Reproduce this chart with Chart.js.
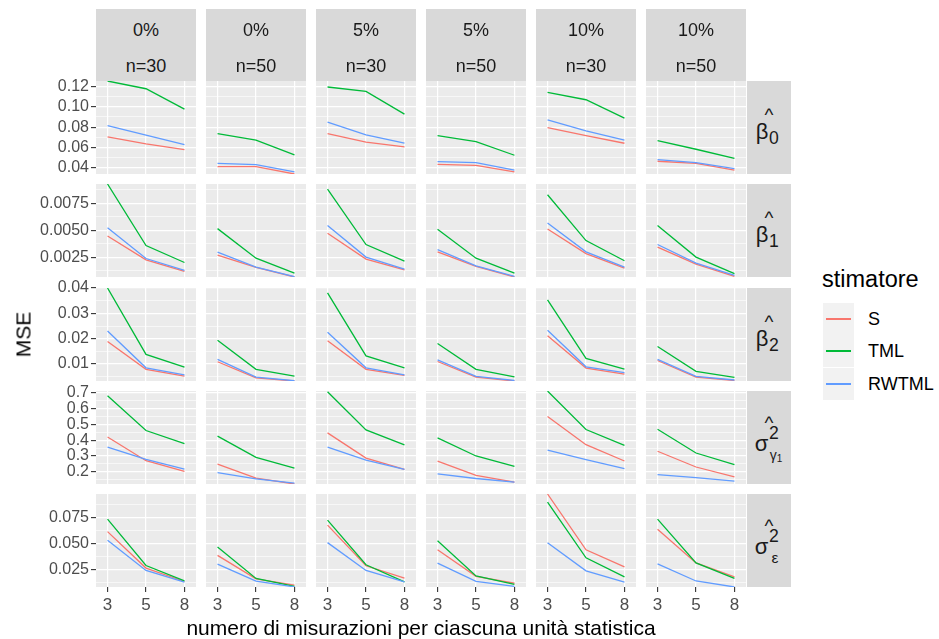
<!DOCTYPE html>
<html>
<head>
<meta charset="utf-8">
<title>MSE degli stimatori</title>
<script src="https://cdn.jsdelivr.net/npm/chart.js"></script>
<style>
    body {
        margin: 0;
        background: #ffffff;
        font-family: "Liberation Sans", Arial, sans-serif;
    }
    #fig {
        position: relative;
        width: 939px;
        height: 639px;
        overflow: hidden;
    }
    .strip {
        position: absolute;
        background: #D9D9D9;
    }
    .txt {
        position: absolute;
        white-space: nowrap;
        color: #1A1A1A;
    }
    .key {
        position: absolute;
        background: #F2F2F2;
    }
    .keyline {
        position: absolute;
        height: 2px;
    }
</style>
</head>
<body>
<div id="fig"></div>

<script>
    // facet columns: percentuale di contaminazione / numerosita
    const contaminazione = ['0%', '0%', '5%', '5%', '10%', '10%'];
    const numerosita = ['n=30', 'n=50', 'n=30', 'n=50', 'n=30', 'n=50'];
    const misurazioni = ['3', '5', '8'];
    const stimatori = ['S', 'TML', 'RWTML'];
    const colori = { S: '#F8766D', TML: '#00BA38', RWTML: '#619CFF' };

    // MSE, one triple (3, 5, 8 misurazioni) per facet column
    const sBeta0   = [[0.0704, 0.0635, 0.0579], [0.0412, 0.0412, 0.0340], [0.0737, 0.0652, 0.0606], [0.0435, 0.0425, 0.0360], [0.0796, 0.0717, 0.0642], [0.0465, 0.0445, 0.0379]];
    const tmlBeta0 = [[0.1253, 0.1177, 0.0977], [0.0737, 0.0672, 0.0527], [0.1194, 0.1151, 0.0928], [0.0717, 0.0658, 0.0524], [0.1141, 0.1069, 0.0889], [0.0668, 0.0583, 0.0494]];
    const rwBeta0  = [[0.0816, 0.0721, 0.0629], [0.0445, 0.0432, 0.0360], [0.0849, 0.0724, 0.0642], [0.0461, 0.0451, 0.0379], [0.0872, 0.0764, 0.0672], [0.0481, 0.0451, 0.0392]];

    const sBeta1   = [[0.00447, 0.00225, 0.00117], [0.00269, 0.00154, 0.00065], [0.00472, 0.00231, 0.00132], [0.00299, 0.00163, 0.00065], [0.00512, 0.00283, 0.00148], [0.00343, 0.00185, 0.00071]];
    const tmlBeta1 = [[0.00930, 0.00357, 0.00200], [0.00515, 0.00240, 0.00102], [0.00882, 0.00367, 0.00213], [0.00509, 0.00240, 0.00102], [0.00830, 0.00404, 0.00216], [0.00543, 0.00250, 0.00096]];
    const rwBeta1  = [[0.00524, 0.00237, 0.00126], [0.00296, 0.00157, 0.00068], [0.00543, 0.00250, 0.00139], [0.00320, 0.00169, 0.00071], [0.00568, 0.00299, 0.00157], [0.00367, 0.00194, 0.00080]];

    const sBeta2   = [[0.0189, 0.0079, 0.0052], [0.0109, 0.0045, 0.0033], [0.0192, 0.0079, 0.0055], [0.0110, 0.0048, 0.0033], [0.0212, 0.0084, 0.0060], [0.0114, 0.0048, 0.0035]];
    const tmlBeta2 = [[0.0400, 0.0138, 0.0088], [0.0194, 0.0079, 0.0052], [0.0381, 0.0132, 0.0085], [0.0181, 0.0079, 0.0049], [0.0353, 0.0122, 0.0080], [0.0169, 0.0071, 0.0047]];
    const rwBeta2  = [[0.0230, 0.0085, 0.0057], [0.0118, 0.0048, 0.0034], [0.0225, 0.0085, 0.0057], [0.0116, 0.0051, 0.0035], [0.0233, 0.0089, 0.0066], [0.0118, 0.0051, 0.0037]];

    const sGamma   = [[0.421, 0.270, 0.202], [0.249, 0.160, 0.122], [0.447, 0.287, 0.215], [0.268, 0.177, 0.134], [0.551, 0.372, 0.268], [0.330, 0.230, 0.168]];
    const tmlGamma = [[0.683, 0.462, 0.379], [0.426, 0.291, 0.223], [0.708, 0.466, 0.370], [0.415, 0.300, 0.234], [0.713, 0.468, 0.368], [0.470, 0.319, 0.245]];
    const rwGamma  = [[0.357, 0.279, 0.217], [0.194, 0.155, 0.128], [0.357, 0.274, 0.215], [0.187, 0.157, 0.134], [0.338, 0.277, 0.219], [0.181, 0.162, 0.140]];

    const sEps     = [[0.0611, 0.0260, 0.0131], [0.0382, 0.0156, 0.0095], [0.0673, 0.0282, 0.0163], [0.0436, 0.0181, 0.0114], [0.0973, 0.0436, 0.0271], [0.0634, 0.0310, 0.0175]];
    const tmlEps   = [[0.0731, 0.0285, 0.0137], [0.0463, 0.0160, 0.0085], [0.0721, 0.0292, 0.0127], [0.0523, 0.0184, 0.0104], [0.0895, 0.0359, 0.0175], [0.0731, 0.0310, 0.0162]];
    const rwEps    = [[0.0527, 0.0237, 0.0124], [0.0298, 0.0134, 0.0079], [0.0505, 0.0237, 0.0127], [0.0307, 0.0133, 0.0084], [0.0504, 0.0233, 0.0126], [0.0300, 0.0136, 0.0078]];

    // y breaks for each row (free scales)
    const yTickBeta0 = [0.04, 0.06, 0.08, 0.10, 0.12];
    const yMinorBeta0 = [0.03, 0.05, 0.07, 0.09, 0.11, 0.13];
    const yTickBeta1 = [0.0025, 0.0050, 0.0075];
    const yMinorBeta1 = [0.00125, 0.00375, 0.00625, 0.00875];
    const yTickBeta2 = [0.01, 0.02, 0.03, 0.04];
    const yMinorBeta2 = [0.005, 0.015, 0.025, 0.035];
    const yTickGamma = [0.2, 0.3, 0.4, 0.5, 0.6, 0.7];
    const yMinorGamma = [0.15, 0.25, 0.35, 0.45, 0.55, 0.65, 0.75];
    const yTickEps = [0.025, 0.050, 0.075];
    const yMinorEps = [0.0125, 0.0375, 0.0625, 0.0875];

    const righe = [
        { S: sBeta0, TML: tmlBeta0, RWTML: rwBeta0, major: yTickBeta0, minor: yMinorBeta0, cifre: 2 },
        { S: sBeta1, TML: tmlBeta1, RWTML: rwBeta1, major: yTickBeta1, minor: yMinorBeta1, cifre: 4 },
        { S: sBeta2, TML: tmlBeta2, RWTML: rwBeta2, major: yTickBeta2, minor: yMinorBeta2, cifre: 2 },
        { S: sGamma, TML: tmlGamma, RWTML: rwGamma, major: yTickGamma, minor: yMinorGamma, cifre: 1 },
        { S: sEps,   TML: tmlEps,   RWTML: rwEps,   major: yTickEps,   minor: yMinorEps,   cifre: 3 }
    ];

    // layout of the facet grid
    const panelLeft = [96, 206, 316, 426, 536, 646];
    const panelTop = [81, 184, 288, 391, 494];
    const panelW = 100, panelH = 93;
    const yAxisW = 96, xAxisH = 30;
    const bordo = 10;   // extra room above/below the first column so end labels are not cut
    const FONT = '"Liberation Sans", Arial, sans-serif';

    const fig = document.getElementById('fig');

    // text placed by its horizontal centre (or left edge) and baseline
    function testo(str, x, baseline, size, opts) {
        opts = opts || {};
        const el = document.createElement('div');
        el.className = 'txt';
        el.textContent = str;
        el.style.fontSize = size + 'px';
        el.style.lineHeight = size + 'px';
        el.style.left = x + 'px';
        el.style.top = (baseline - 0.8465 * size) + 'px';
        if (!opts.left) el.style.transform = 'translateX(-50%)';
        if (opts.color) el.style.color = opts.color;
        fig.appendChild(el);
        return el;
    }

    function box(cls, left, top, w, h) {
        const el = document.createElement('div');
        el.className = cls;
        el.style.left = left + 'px';
        el.style.top = top + 'px';
        el.style.width = w + 'px';
        el.style.height = h + 'px';
        fig.appendChild(el);
        return el;
    }

    // grey panel background behind the grid
    const sfondo = {
        id: 'sfondo',
        beforeDraw(chart) {
            const a = chart.chartArea;
            const ctx = chart.ctx;
            ctx.save();
            ctx.fillStyle = '#EBEBEB';
            ctx.fillRect(a.left, a.top, a.right - a.left, a.bottom - a.top);
            ctx.restore();
        }
    };

    function yTicks(riga, lo, hi) {
        return riga.major.map(v => ({ value: v }))
            .concat(riga.minor.map(v => ({ value: v, minor: true })))
            .filter(t => t.value >= lo - 1e-9 && t.value <= hi + 1e-9)
            .sort((a, b) => a.value - b.value);
    }

    // the panel keeps its full size: no room reserved for half labels
    function senzaMargini(ax) {
        ax.paddingTop = 0;
        ax.paddingBottom = 0;
        ax.paddingLeft = 0;
        ax.paddingRight = 0;
    }

    righe.forEach((riga, r) => {
        const tutti = [riga.S, riga.TML, riga.RWTML].flat(2);
        const yMin = Math.min(...tutti);
        const yMax = Math.max(...tutti);

        for (let c = 0; c < panelLeft.length; c++) {
            const asseY = c === 0;
            const asseX = r === righe.length - 1;
            const pad = asseY ? bordo : 0;
            const left = asseY ? panelLeft[c] - yAxisW : panelLeft[c];
            const w = panelLeft[c] + panelW - left;
            const h = panelH + (asseX ? xAxisH : 0) + 2 * pad;

            const cv = document.createElement('canvas');
            cv.width = w;
            cv.height = h;
            cv.style.position = 'absolute';
            cv.style.left = left + 'px';
            cv.style.top = (panelTop[r] - pad) + 'px';
            fig.appendChild(cv);

            // ggplot draws S, TML, RWTML in order; Chart.js puts index 0 on top
            const datasets = stimatori.slice().reverse().map(k => ({
                label: k,
                data: riga[k][c].map((v, i) => ({ x: i + 1, y: v })),
                borderColor: colori[k],
                backgroundColor: colori[k],
                borderWidth: 1.3,
                pointRadius: 0,
                fill: false,
                tension: 0
            }));

            new Chart(cv, {
                type: 'line',
                data: { datasets: datasets },
                options: {
                    responsive: false,
                    animation: false,
                    events: [],
                    layout: { padding: { top: pad, bottom: pad, left: 0, right: 0 } },
                    plugins: { legend: { display: false }, tooltip: { enabled: false } },
                    scales: {
                        x: {
                            type: 'linear',
                            min: 0.7,
                            max: 3.3,
                            bounds: 'data',
                            afterBuildTicks: ax => { ax.ticks = misurazioni.map((m, i) => ({ value: i + 1 })); },
                            afterFit: ax => { ax.height = asseX ? xAxisH : 0; senzaMargini(ax); },
                            border: { display: false },
                            grid: {
                                color: '#FFFFFF',
                                lineWidth: 1.2,
                                drawTicks: asseX,
                                tickLength: 5,
                                tickColor: '#333333',
                                tickWidth: 1.1
                            },
                            ticks: {
                                display: asseX,
                                autoSkip: false,
                                maxRotation: 0,
                                padding: 3,
                                color: '#4D4D4D',
                                font: { family: FONT, size: 17 },
                                callback: (v, i) => misurazioni[i]
                            }
                        },
                        y: {
                            type: 'linear',
                            min: yMin,
                            max: yMax,
                            bounds: 'data',
                            afterBuildTicks: ax => { ax.ticks = yTicks(riga, yMin, yMax); },
                            afterFit: ax => { ax.width = asseY ? yAxisW : 0; senzaMargini(ax); },
                            border: { display: false },
                            grid: {
                                color: '#FFFFFF',
                                lineWidth: ctx => (ctx.tick && ctx.tick.minor) ? 0.6 : 1.2,
                                drawTicks: asseY,
                                tickLength: 5,
                                tickColor: ctx => (ctx.tick && ctx.tick.minor) ? 'rgba(0,0,0,0)' : '#333333',
                                tickWidth: 1.1
                            },
                            ticks: {
                                display: asseY,
                                autoSkip: false,
                                padding: 2,
                                color: '#4D4D4D',
                                font: { family: FONT, size: 16 },
                                callback: (v, i, ts) => ts[i].minor ? '' : v.toFixed(riga.cifre)
                            }
                        }
                    }
                },
                plugins: [sfondo]
            });
        }
    });

    // column strips
    for (let c = 0; c < panelLeft.length; c++) {
        box('strip', panelLeft[c], 9, panelW, panelTop[0] - 9);
        const cx = panelLeft[c] + panelW / 2;
        testo(contaminazione[c], cx, 36, 18);
        testo(numerosita[c], cx, 72, 18);
    }

    // row strips with the parameter names
    const parametri = [
        { base: 'β', pedice: '0' },
        { base: 'β', pedice: '1' },
        { base: 'β', pedice: '2' },
        { base: 'σ', apice: '2', pedice: 'γ', pedice2: '1' },
        { base: 'σ', apice: '2', pedice: 'ε' }
    ];
    const stripX = panelLeft[5] + panelW + 1;
    parametri.forEach((p, r) => {
        box('strip', stripX, panelTop[r], 44, panelH);
        const yc = panelTop[r] + panelH / 2;
        if (p.base === 'β') {
            testo('^', 769, yc - 6.5, 19);
            testo(p.base, 762, yc + 12.5, 22);
            testo(p.pedice, 774, yc + 17, 17.6);
        } else {
            testo('^', 769, yc - 8, 19);
            testo(p.apice, 774, yc + 2.5, 17.6);
            testo(p.base, 761.5, yc + 14.5, 22);
            if (p.pedice2) {
                testo(p.pedice, 773.3, yc + 22.5, 14);
                testo(p.pedice2, 779.5, yc + 24.5, 10);
            } else {
                testo(p.pedice, 775, yc + 22.5, 15.5);
            }
        }
    });

    // axis titles
    testo('numero di misurazioni per ciascuna unità statistica', 421, 635, 21, { color: '#000000' });
    const mse = testo('MSE', 22.5, 0, 21, { color: '#000000' });
    mse.style.top = (334 - 10.5) + 'px';
    mse.style.transform = 'translateX(-50%) rotate(-90deg)';

    // legend
    testo('stimatore', 822, 288, 23.5, { left: true, color: '#000000' });
    stimatori.forEach((k, i) => {
        const top = 303 + Math.round(i * 32.3);
        box('key', 823, top, 31, 32);
        const linea = box('keyline', 826, top + 15, 25, 2);
        linea.style.background = colori[k];
        testo(k, 868, top + 22, 18, { left: true, color: '#000000' });
    });
</script>
</body>
</html>
